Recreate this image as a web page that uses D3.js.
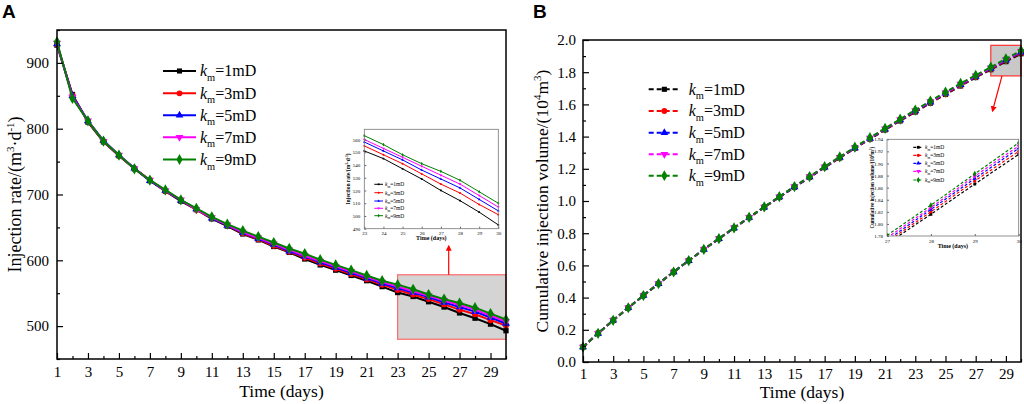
<!DOCTYPE html>
<html lang="en">
<head>
<meta charset="UTF-8">
<title>Injection rate and cumulative injection volume</title>
<script src="https://d3js.org/d3.v7.min.js"></script>
<style>
  body { margin: 0; background: #fff; }
  svg text { font-family: "Liberation Serif", "Times New Roman", serif; fill: #000; }
</style>
</head>
<body>
<svg id="chart" width="1024" height="404"></svg>
<script>
// ---- data ----
const days = [1,2,3,4,5,6,7,8,9,10,11,12,13,14,15,16,17,18,19,20,21,22,23,24,25,26,27,28,29,30];
const permLabels = ['=1mD', '=3mD', '=5mD', '=7mD', '=9mD'];

// injection rate, m3/d
const rate1mD = [927,852,810,780,759,739,721,705,690,677,663,652,640,631,621,612,602,593,585,577,569,560,551,545,537,529,520,512,503,493];
const rate3mD = [928,851,811,781,759,740,722,705,691,677,664,653,641,632,622,613,604,595,587,579,571,563,555,548,541,533,525,518,509,501];
const rate5mD = [929,850,812,782,760,740,721,706,691,678,664,653,642,633,624,614,606,597,589,581,573,565,558,551,544,536,529,522,513,504];
const rate7mD = [930,848,812,781,760,739,722,706,692,677,665,654,643,634,625,616,607,599,591,583,575,567,560,553,546,539,532,525,516,507];
const rate9mD = [932,846,812,781,760,739,722,707,692,679,666,655,645,636,627,618,610,601,593,585,577,569,563,556,548,541,535,528,519,510];

// cumulative injection volume, 10^4 m3
const cum1mD = [0.093,0.178,0.259,0.337,0.413,0.487,0.559,0.630,0.699,0.766,0.832,0.897,0.961,1.024,1.086,1.147,1.208,1.268,1.327,1.385,1.442,1.498,1.553,1.608,1.662,1.715,1.767,1.816,1.866,1.915];
const cum3mD = [0.093,0.178,0.259,0.337,0.413,0.487,0.559,0.630,0.699,0.766,0.832,0.897,0.961,1.025,1.087,1.148,1.209,1.269,1.329,1.387,1.444,1.500,1.556,1.611,1.665,1.718,1.770,1.820,1.871,1.920];
const cum5mD = [0.093,0.178,0.259,0.337,0.413,0.487,0.559,0.630,0.699,0.766,0.832,0.898,0.962,1.025,1.088,1.149,1.210,1.271,1.330,1.389,1.446,1.503,1.559,1.614,1.669,1.722,1.773,1.824,1.875,1.925];
const cum7mD = [0.093,0.178,0.259,0.337,0.413,0.487,0.559,0.630,0.699,0.767,0.833,0.898,0.962,1.026,1.089,1.151,1.212,1.272,1.332,1.391,1.449,1.506,1.562,1.618,1.672,1.726,1.777,1.827,1.879,1.929];
const cum9mD = [0.093,0.178,0.259,0.337,0.413,0.487,0.559,0.630,0.699,0.767,0.833,0.899,0.963,1.027,1.090,1.152,1.213,1.274,1.334,1.393,1.451,1.508,1.565,1.621,1.676,1.730,1.781,1.831,1.883,1.934];

const xMajorTicks = [1,3,5,7,9,11,13,15,17,19,21,23,25,27,29];
const xMinorTicks = [2,4,6,8,10,12,14,16,18,20,22,24,26,28,30];
const rateTicks = [500,600,700,800,900];
const rateMinor = [450,550,650,750,850,950];
const cumTicks = [0,0.2,0.4,0.6,0.8,1.0,1.2,1.4,1.6,1.8,2.0];
const cumMinor = [0.1,0.3,0.5,0.7,0.9,1.1,1.3,1.5,1.7,1.9];

// zoom windows (data units)
const zoomA = { days: [23, 30], rate: [480, 578] };
const zoomB = { days: [28, 30], cum: [1.777, 1.967] };

const colors = ['#000000', '#ff0000', '#0000ff', '#ff00ff', '#008000'];
const symbols = [d3.symbolSquare, d3.symbolCircle, d3.symbolTriangle, d3.symbolTriangle, d3.symbolDiamond];
const symRotate = [0, 0, 0, 180, 0];

const svg = d3.select('#chart');
const defs = svg.append('defs');
defs.append('marker').attr('id', 'arrow').attr('viewBox', '0 0 10 10')
  .attr('refX', 8).attr('refY', 5).attr('markerWidth', 5).attr('markerHeight', 5)
  .attr('orient', 'auto')
  .append('path').attr('d', 'M0,0 L10,5 L0,10 z').attr('fill', '#ff0000');

function legendText(sel, label, fs) {
  sel.append('tspan').attr('font-style', 'italic').text('k');
  sel.append('tspan').attr('font-size', fs * 0.65).attr('dy', fs * 0.3).text('m');
  sel.append('tspan').attr('dy', -fs * 0.3).text(label);
}

function drawSeries(g, x, y, data, opt) {
  const line = d3.line().x((d, i) => x(opt.days[i])).y(d => y(d));
  data.forEach((vals, s) => {
    const v = vals.slice(opt.from, opt.to);
    g.append('path').datum(v)
      .attr('d', line)
      .attr('fill', 'none')
      .attr('stroke', colors[s])
      .attr('stroke-width', opt.lw)
      .attr('stroke-dasharray', opt.dash || null);
    g.selectAll(null).data(v).enter().append('path')
      .attr('d', d3.symbol(symbols[s], opt.msize * (s === 4 ? 1.3 : 1)))
      .attr('transform', (d, i) => `translate(${x(opt.days[i])},${y(d)}) rotate(${symRotate[s]})`)
      .attr('fill', colors[s]);
  });
}

function drawAxes(g, x, y, box, o) {
  const xa = g.append('g').attr('transform', `translate(0,${box.b})`);
  xa.call(d3.axisBottom(x).tickValues(o.xMajor).tickSize(-o.tick).tickPadding(o.pad).tickFormat(o.xFmt || d3.format('d')));
  xa.append('g').call(d3.axisBottom(x).tickValues(o.xMinor || []).tickSize(-o.tick / 2).tickFormat(''));
  const ya = g.append('g').attr('transform', `translate(${box.l},0)`);
  ya.call(d3.axisLeft(y).tickValues(o.yMajor).tickSize(-o.tick).tickPadding(o.pad + 1).tickFormat(o.yFmt));
  ya.append('g').call(d3.axisLeft(y).tickValues(o.yMinor || []).tickSize(-o.tick / 2).tickFormat(''));
  g.selectAll('.domain').remove();
  g.selectAll('.tick line').attr('stroke', '#000').attr('stroke-width', o.tickW);
  g.selectAll('.tick text').attr('font-size', o.fs).attr('font-family', '"Liberation Serif", serif').attr('fill', '#000');
  g.append('rect').attr('x', box.l).attr('y', box.t).attr('width', box.r - box.l).attr('height', box.b - box.t)
    .attr('fill', 'none').attr('stroke', o.frame || '#000').attr('stroke-width', o.frameW);
}

function legend(g, x0, x1, tx, rows, fs, lw, msize, dash) {
  rows.forEach((ry, s) => {
    g.append('line').attr('x1', x0).attr('x2', x1).attr('y1', ry).attr('y2', ry)
      .attr('stroke', colors[s]).attr('stroke-width', lw).attr('stroke-dasharray', dash || null);
    g.append('path').attr('d', d3.symbol(symbols[s], msize * (s === 4 ? 1.3 : 1)))
      .attr('transform', `translate(${(x0 + x1) / 2},${ry}) rotate(${symRotate[s]})`)
      .attr('fill', colors[s]);
    const t = g.append('text').attr('x', tx).attr('y', ry + fs * 0.33).attr('font-size', fs);
    legendText(t, permLabels[s], fs);
  });
}

// ================= Panel A =================
const boxA = { l: 57, r: 506, t: 30, b: 359 };
const xA = d3.scaleLinear().domain([1, 30]).range([boxA.l, boxA.r]);
const yA = d3.scaleLinear().domain([450, 950]).range([boxA.b, boxA.t]);
const gA = svg.append('g');

// zoom window
gA.append('rect')
  .attr('x', xA(zoomA.days[0])).attr('y', yA(zoomA.rate[1]))
  .attr('width', xA(zoomA.days[1]) - xA(zoomA.days[0])).attr('height', yA(zoomA.rate[0]) - yA(zoomA.rate[1]))
  .attr('fill', '#d4d4d4').attr('stroke', '#ff6a6a').attr('stroke-width', 1.2);
gA.append('line').attr('x1', 448.7).attr('x2', 448.7).attr('y1', yA(zoomA.rate[1])).attr('y2', 246)
  .attr('stroke', '#ff0000').attr('stroke-width', 1.2).attr('marker-end', 'url(#arrow)');

drawSeries(gA, xA, yA, [rate1mD, rate3mD, rate5mD, rate7mD, rate9mD],
  { days: days, from: 0, to: 30, lw: 2, msize: 28 });
drawAxes(gA, xA, yA, boxA, { xMajor: xMajorTicks, xMinor: xMinorTicks, yMajor: rateTicks, yMinor: rateMinor,
  yFmt: d3.format('d'), tick: 6, pad: 7, fs: 15, tickW: 1.2, frameW: 1.5 });
legend(gA, 163, 196, 200, [71, 93.3, 115.3, 137.3, 159.5], 16, 2, 26);

gA.append('text').attr('x', (boxA.l + boxA.r) / 2).attr('y', 397).attr('text-anchor', 'middle')
  .attr('font-size', 17.5).text('Time (days)');
const ytA = gA.append('text').attr('transform', `translate(21,${(boxA.t + boxA.b) / 2}) rotate(-90)`)
  .attr('text-anchor', 'middle').attr('font-size', 18);
ytA.append('tspan').text('Injection rate/(m');
ytA.append('tspan').attr('font-size', 11).attr('dy', -7).text('3');
ytA.append('tspan').attr('dy', 7).text('·d');
ytA.append('tspan').attr('font-size', 11).attr('dy', -7).text('-1');
ytA.append('tspan').attr('dy', 7).text(')');

// inset A
const inA = { l: 364.3, r: 498.3, t: 129.3, b: 228.7 };
const xIA = d3.scaleLinear().domain([23, 30]).range([inA.l, inA.r]);
const yIA = d3.scaleLinear().domain([490, 568]).range([inA.b, inA.t]);
const gIA = svg.append('g');
gIA.append('rect').attr('x', inA.l).attr('y', inA.t).attr('width', inA.r - inA.l).attr('height', inA.b - inA.t).attr('fill', '#fff');
drawSeries(gIA, xIA, yIA, [rate1mD, rate3mD, rate5mD, rate7mD, rate9mD],
  { days: days.slice(22), from: 22, to: 30, lw: 1, msize: 3 });
drawAxes(gIA, xIA, yIA, inA, { xMajor: [23,24,25,26,27,28,29,30], yMajor: [490,500,510,520,530,540,550,560],
  yFmt: d3.format('d'), tick: 2, pad: 3, fs: 5, tickW: 0.6, frame: '#777', frameW: 0.8 });
legend(gIA, 374.3, 383, 385, [184.3, 192.7, 201, 208.3, 215.7], 5.5, 1, 3);
gIA.append('text').attr('x', (inA.l + inA.r) / 2).attr('y', 240).attr('text-anchor', 'middle')
  .attr('font-size', 6).attr('font-weight', 'bold').text('Time (days)');
const ytIA = gIA.append('text').attr('transform', `translate(350,${(inA.t + inA.b) / 2}) rotate(-90)`)
  .attr('text-anchor', 'middle').attr('font-size', 5.5).attr('font-weight', 'bold');
ytIA.append('tspan').text('Injection rate/(m');
ytIA.append('tspan').attr('font-size', 3.5).attr('dy', -2).text('3');
ytIA.append('tspan').attr('dy', 2).text('·d');
ytIA.append('tspan').attr('font-size', 3.5).attr('dy', -2).text('-1');
ytIA.append('tspan').attr('dy', 2).text(')');

// ================= Panel B =================
const boxB = { l: 583, r: 1021, t: 40, b: 362 };
const xB = d3.scaleLinear().domain([1, 30]).range([boxB.l, boxB.r]);
const yB = d3.scaleLinear().domain([0, 2]).range([boxB.b, boxB.t]);
const gB = svg.append('g');

gB.append('rect')
  .attr('x', xB(zoomB.days[0])).attr('y', yB(zoomB.cum[1]))
  .attr('width', xB(zoomB.days[1]) - xB(zoomB.days[0])).attr('height', yB(zoomB.cum[0]) - yB(zoomB.cum[1]))
  .attr('fill', '#c8c8c8').attr('stroke', '#ff3030').attr('stroke-width', 1.2);

drawSeries(gB, xB, yB, [cum1mD, cum3mD, cum5mD, cum7mD, cum9mD],
  { days: days, from: 0, to: 30, lw: 2, msize: 28, dash: '5,3' });
drawAxes(gB, xB, yB, boxB, { xMajor: xMajorTicks, xMinor: xMinorTicks, yMajor: cumTicks, yMinor: cumMinor,
  yFmt: d3.format('.1f'), tick: 6, pad: 6, fs: 15, tickW: 1.2, frameW: 1.5 });
gB.append('line').attr('x1', 1002).attr('x2', 992.5).attr('y1', yB(zoomB.cum[0])).attr('y2', 111)
  .attr('stroke', '#ff0000').attr('stroke-width', 1.2).attr('marker-end', 'url(#arrow)');
legend(gB, 648.7, 680, 688.7, [89.3, 111, 132.7, 154.3, 175.7], 16, 2, 26, '5,3');

gB.append('text').attr('x', (boxB.l + boxB.r) / 2).attr('y', 398).attr('text-anchor', 'middle')
  .attr('font-size', 17.5).text('Time (days)');
const ytB = gB.append('text').attr('transform', `translate(548,${(boxB.t + boxB.b) / 2}) rotate(-90)`)
  .attr('text-anchor', 'middle').attr('font-size', 17.5);
ytB.append('tspan').text('Cumulative injection volume/(10');
ytB.append('tspan').attr('font-size', 11).attr('dy', -7).text('4');
ytB.append('tspan').attr('dy', 7).text('m');
ytB.append('tspan').attr('font-size', 11).attr('dy', -7).text('3');
ytB.append('tspan').attr('dy', 7).text(')');

// inset B
const inB = { l: 887, r: 1018.7, t: 139.3, b: 236 };
const xIB = d3.scaleLinear().domain([27, 30]).range([inB.l, inB.r]);
const yIB = d3.scaleLinear().domain([1.78, 1.94]).range([inB.b, inB.t]);
const gIB = svg.append('g');
defs.append('clipPath').attr('id', 'clipIB').append('rect')
  .attr('x', inB.l).attr('y', inB.t).attr('width', inB.r - inB.l).attr('height', inB.b - inB.t);
gIB.append('rect').attr('x', inB.l).attr('y', inB.t).attr('width', inB.r - inB.l).attr('height', inB.b - inB.t).attr('fill', '#fff');
const gIBd = gIB.append('g').attr('clip-path', 'url(#clipIB)');
drawSeries(gIBd, xIB, yIB, [cum1mD, cum3mD, cum5mD, cum7mD, cum9mD],
  { days: days.slice(26), from: 26, to: 30, lw: 1.2, msize: 8, dash: '3,2' });
drawAxes(gIB, xIB, yIB, inB, { xMajor: [27, 28, 29, 30], yMajor: [1.78,1.80,1.82,1.84,1.86,1.88,1.90,1.92,1.94],
  yFmt: d3.format('.2f'), tick: 2, pad: 3, fs: 5, tickW: 0.6, frame: '#777', frameW: 0.8 });
legend(gIB, 913.3, 923.3, 925, [147.3, 155.3, 163.3, 171.3, 180], 5.5, 1.2, 8, '3,2');
gIB.append('text').attr('x', (inB.l + inB.r) / 2).attr('y', 248).attr('text-anchor', 'middle')
  .attr('font-size', 6).attr('font-weight', 'bold').text('Time (days)');
const ytIB = gIB.append('text').attr('transform', `translate(874,${(inB.t + inB.b) / 2}) rotate(-90)`)
  .attr('text-anchor', 'middle').attr('font-size', 5.2).attr('font-weight', 'bold');
ytIB.append('tspan').text('Cumulative injection volume/(10');
ytIB.append('tspan').attr('font-size', 3.4).attr('dy', -2).text('4');
ytIB.append('tspan').attr('dy', 2).text('m');
ytIB.append('tspan').attr('font-size', 3.4).attr('dy', -2).text('3');
ytIB.append('tspan').attr('dy', 2).text(')');

// panel letters
svg.append('text').attr('x', 2).attr('y', 18).attr('font-size', 19).attr('font-weight', 'bold')
  .style('font-family', '"Liberation Sans", Arial, sans-serif').text('A');
svg.append('text').attr('x', 533).attr('y', 18).attr('font-size', 19).attr('font-weight', 'bold')
  .style('font-family', '"Liberation Sans", Arial, sans-serif').text('B');
</script>
</body>
</html>
